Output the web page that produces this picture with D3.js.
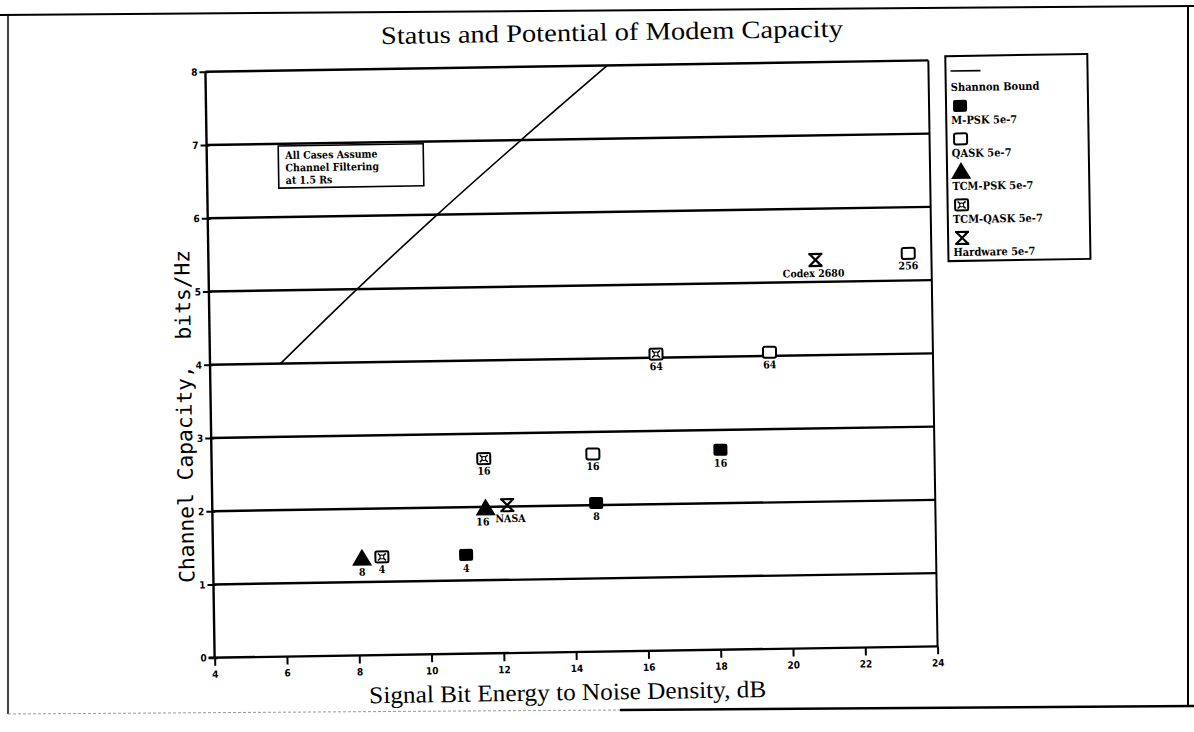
<!DOCTYPE html>
<html><head><meta charset="utf-8">
<script src="https://cdn.jsdelivr.net/npm/d3@7/dist/d3.min.js"></script>
<style>
body{margin:0;background:#fff;}
svg{display:block;}
.lbl{font-family:"DejaVu Serif Condensed","DejaVu Serif",serif;font-stretch:condensed;font-weight:bold;fill:#000;}
.tick text{font-family:"DejaVu Sans Condensed","DejaVu Sans",sans-serif;font-stretch:condensed;font-weight:bold;font-size:10px;fill:#000;}
</style></head>
<body>
<svg id="c" width="1194" height="732"></svg>
<script>
// ---- data ----
const xTicks = [4,6,8,10,12,14,16,18,20,22,24];
const yTicks = [0,1,2,3,4,5,6,7,8];
const shannonX = [5.95,8.1,10.35,12.7,15.12];
const shannonY = [4,5,6,7,8];
const mpskX = [11.0,14.62,18.08];
const mpskY = [1.35,2.03,2.73];
const mpskLabels = ["4","8","16"];
const qaskX = [14.55,19.48,23.36];
const qaskY = [2.7,4.05,5.37];
const qaskLabels = ["16","64","256"];
const tcmpskX = [8.12,11.56];
const tcmpskY = [1.32,1.98];
const tcmpskLabels = ["8","16"];
const tcmqaskX = [8.67,11.53,16.34];
const tcmqaskY = [1.34,2.66,4.05];
const tcmqaskLabels = ["4","16","64"];
const hwX = [12.16,20.79];
const hwY = [2.02,5.3];
const hwLabels = ["NASA","Codex 2680"];
const legendNames = ["Shannon Bound","M-PSK 5e-7","QASK 5e-7","TCM-PSK 5e-7","TCM-QASK 5e-7","Hardware 5e-7"];
const noteLines = ["All Cases Assume","Channel Filtering","at 1.5 Rs"];

const svg = d3.select("#c");
// outer scan frame
const frame = svg.append("g").attr("stroke","#000").attr("fill","none");
frame.append("line").attr("x1",0).attr("y1",15).attr("x2",1194).attr("y2",6).attr("stroke-width",2);
frame.append("line").attr("x1",8).attr("y1",15).attr("x2",8).attr("y2",714).attr("stroke-width",1.5);
frame.append("line").attr("x1",1188).attr("y1",6).attr("x2",1188).attr("y2",706).attr("stroke-width",2);
frame.append("line").attr("x1",8).attr("y1",714).attr("x2",620).attr("y2",710).attr("stroke-width",1).attr("stroke","#999").attr("stroke-dasharray","3,2");
frame.append("line").attr("x1",620).attr("y1",710).attr("x2",1194).attr("y2",706).attr("stroke-width",2.5);

const g = svg.append("g").attr("transform","rotate(-0.9,575,360)");
const x = d3.scaleLinear().domain([4,24]).range([210,933]);
const y = d3.scaleLinear().domain([0,8]).range([652,66]);

// title
g.append("text").attr("x",386).attr("y",41)
  .attr("font-family","Liberation Serif, serif").attr("font-size",25)
  .attr("textLength",462).attr("lengthAdjust","spacingAndGlyphs")
  .text("Status and Potential of Modem Capacity");

// gridlines
g.append("g").selectAll("line").data(yTicks.filter(d=>d>0)).join("line")
  .attr("x1",x(4)).attr("x2",x(24)).attr("y1",d=>y(d)).attr("y2",d=>y(d))
  .attr("stroke","#000").attr("stroke-width",2.4);
// frame lines
g.append("line").attr("x1",x(4)).attr("x2",x(4)).attr("y1",y(0)).attr("y2",y(8)).attr("stroke","#000").attr("stroke-width",2.4);
g.append("line").attr("x1",x(24)).attr("x2",x(24)).attr("y1",y(0)).attr("y2",y(8)).attr("stroke","#000").attr("stroke-width",2);
g.append("line").attr("x1",x(4)-6).attr("x2",x(24)).attr("y1",y(0)).attr("y2",y(0)).attr("stroke","#000").attr("stroke-width",2.4);

// axes
const ax = g.append("g").attr("transform",`translate(0,${y(0)})`)
  .call(d3.axisBottom(x).tickValues(xTicks).tickSize(8).tickFormat(d3.format("d")));
ax.select(".domain").remove();
ax.selectAll(".tick line").attr("stroke","#000").attr("stroke-width",2);
ax.selectAll(".tick text").attr("dy","0.9em");
const ay = g.append("g").attr("transform",`translate(${x(4)},0)`)
  .call(d3.axisLeft(y).tickValues(yTicks).tickSize(6).tickFormat(d3.format("d")));
ay.select(".domain").remove();
ay.selectAll(".tick line").attr("stroke","#000").attr("stroke-width",2).attr("x2",-6).attr("x1",3);
ay.selectAll(".tick text").attr("x",-8);

// axis titles
g.append("text").attr("x",364).attr("y",700)
  .attr("font-family","Liberation Serif, serif").attr("font-size",24)
  .attr("textLength",397).attr("lengthAdjust","spacingAndGlyphs")
  .text("Signal Bit Energy to Noise Density,  dB");
g.append("text").attr("transform",`translate(191,${y(3.3)}) rotate(-90)`).attr("text-anchor","middle")
  .attr("font-family","DejaVu Sans Mono, monospace").attr("font-size",21).attr("xml:space","preserve")
  .attr("textLength",333).attr("lengthAdjust","spacingAndGlyphs")
  .text("Channel Capacity,  bits/Hz");

// Shannon bound
const sh = shannonX.map((v,i)=>[v,shannonY[i]]);
g.append("path").datum(sh).attr("fill","none").attr("stroke","#000").attr("stroke-width",1.6)
  .attr("d",d3.line().x(d=>x(d[0])).y(d=>y(d[1])).curve(d3.curveMonotoneX));

// annotation box
const nb = g.append("g");
const bx = x(5.98), by = y(6.97), bw = 145, bh = 42;
nb.append("rect").attr("x",bx).attr("y",by).attr("width",bw).attr("height",bh)
  .attr("fill","#fff").attr("stroke","#000").attr("stroke-width",1.6);
nb.selectAll("text").data(noteLines).join("text").attr("class","lbl").attr("font-size",10.5)
  .attr("x",bx+7).attr("y",(d,i)=>by+13+i*12.5).text(d=>d);

// marker drawers
function fsq(sel){sel.append("rect").attr("x",-7).attr("y",-6).attr("width",14).attr("height",12).attr("rx",2).attr("fill","#000");}
function osq(sel){sel.append("rect").attr("x",-6.5).attr("y",-5.5).attr("width",13).attr("height",11).attr("rx",2).attr("fill","#fff").attr("stroke","#000").attr("stroke-width",2);}
function tri(sel){sel.append("path").attr("d","M0,-10L10,7L-10,7Z").attr("fill","#000");}
function xsq(sel){
  sel.append("rect").attr("x",-6.5).attr("y",-5.5).attr("width",13).attr("height",11).attr("rx",1.5).attr("fill","#fff").attr("stroke","#000").attr("stroke-width",2);
  sel.append("path").attr("d","M-4,-3.5L4,3.5M4,-3.5L-4,3.5").attr("stroke","#000").attr("stroke-width",1.5);
  sel.append("circle").attr("r",2).attr("fill","#fff").attr("stroke","#000").attr("stroke-width",1);
}
function hg(sel){sel.append("path").attr("d","M-7,-6H7M-7,6H7M-6,-6L6,6M6,-6L-6,6").attr("stroke","#000").attr("stroke-width",2.2).attr("fill","none");}

function series(X,Y,L,draw,labDy,labDx){
  const s = g.append("g").selectAll("g").data(X.map((v,i)=>({x:v,y:Y[i],l:L[i]}))).join("g")
    .attr("transform",d=>`translate(${x(d.x)},${y(d.y)})`);
  s.each(function(){draw(d3.select(this));});
  s.append("text").attr("class","lbl").attr("font-size",10.5).attr("text-anchor","middle")
    .attr("x",(d,i)=>labDx?labDx[i]:0).attr("y",labDy).text(d=>d.l);
}
series(mpskX,mpskY,mpskLabels,fsq,17);
series(qaskX,qaskY,qaskLabels,osq,16);
series(tcmpskX,tcmpskY,tcmpskLabels,tri,17,[0,-3]);
series(tcmqaskX,tcmqaskY,tcmqaskLabels,xsq,16);
series(hwX,hwY,hwLabels,hg,17,[3,-2]);

// legend
const lg = g.append("g");
lg.append("rect").attr("x",950).attr("y",62).attr("width",142).attr("height",205).attr("fill","#fff").attr("stroke","#000").attr("stroke-width",2);
lg.append("line").attr("x1",955).attr("x2",985).attr("y1",77).attr("y2",77).attr("stroke","#000").attr("stroke-width",1.6);
const drawers=[null,fsq,osq,tri,xsq,hg];
legendNames.forEach((n,i)=>{
  const base = 97 + i*33;
  lg.append("text").attr("class","lbl").attr("font-size",11).attr("x",955).attr("y",base).text(n);
  if(drawers[i]){
    const gg = lg.append("g").attr("transform",`translate(964,${base-18})`);
    drawers[i](gg);
  }
});
</script>
</body></html>
